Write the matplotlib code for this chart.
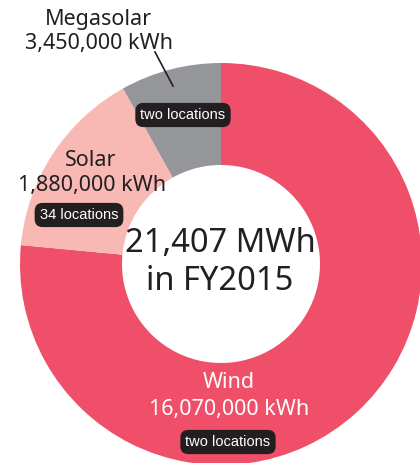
import matplotlib
matplotlib.use("Agg")
import matplotlib.pyplot as plt

# shares of the ring as drawn (percent), clockwise from 12 o'clock
slice_names = ["Wind", "Solar", "Megasolar"]
slice_shares = [76.5, 15.4, 8.1]
slice_colors = ["#ef4f69", "#f8b9b5", "#95969a"]

# label texts
label_values = ["16,070,000 kWh", "1,880,000 kWh", "3,450,000 kWh"]
label_sites = ["two locations", "34 locations", "two locations"]
total_text = "21,407 MWh\nin FY2015"

W, H = 420, 463

fig = plt.figure(figsize=(W / 100, H / 100), dpi=100)
ax = fig.add_axes([0, 0, 1, 1])

def Y(y):
    # picture rows -> data y
    return H - y

cx, cy, r_out, r_in = 221, Y(264), 201, 99
ax.pie(slice_shares, colors=slice_colors, startangle=90, counterclock=False,
       center=(cx, cy), radius=r_out,
       wedgeprops=dict(width=r_out - r_in, linewidth=0))

ax.set_xlim(0, W)
ax.set_ylim(0, H)
ax.set_aspect("equal")
ax.axis("off")

dark = "#231f20"
box = dict(boxstyle="round,pad=0.35,rounding_size=0.55", fc=dark, ec="none")
lab_font = "Noto Sans"
tag_font = "Liberation Sans"
lab_size = 15.5
tag_size = 10.5

# center total
ax.text(220, Y(262), total_text, ha="center", va="center", fontsize=23.5,
        family=lab_font, color=dark, linespacing=1.2)

# Wind
ax.text(229, Y(383), slice_names[0], ha="center", va="center", fontsize=lab_size,
        family=lab_font, color="white")
ax.text(229, Y(410), label_values[0], ha="center", va="center", fontsize=lab_size,
        family=lab_font, color="white")
ax.text(228, Y(442), label_sites[0], ha="center", va="center", fontsize=tag_size,
        family=tag_font, color="white", bbox=box)

# Solar
ax.text(91, Y(160), slice_names[1], ha="center", va="center", fontsize=lab_size,
        family=lab_font, color=dark)
ax.text(92, Y(186), label_values[1], ha="center", va="center", fontsize=lab_size,
        family=lab_font, color=dark)
ax.text(79, Y(215), label_sites[1], ha="center", va="center", fontsize=tag_size,
        family=tag_font, color="white", bbox=box)

# Megasolar
ax.text(98, Y(20), slice_names[2], ha="center", va="center", fontsize=lab_size,
        family=lab_font, color=dark)
ax.text(99, Y(43), label_values[2], ha="center", va="center", fontsize=lab_size,
        family=lab_font, color=dark)
ax.plot([155, 173], [Y(52), Y(86)], color=dark, lw=1.2)
ax.text(183, Y(115), label_sites[2], ha="center", va="center", fontsize=tag_size,
        family=tag_font, color="white", bbox=box)

fig.savefig("out.png", dpi=100)
